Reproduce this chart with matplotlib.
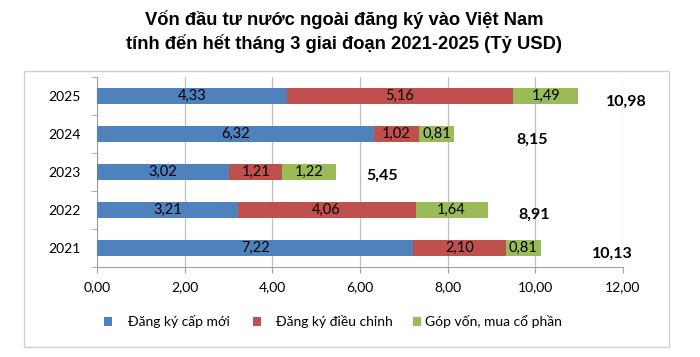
import matplotlib
matplotlib.use("Agg")
import matplotlib.pyplot as plt
from matplotlib.patches import Rectangle, Patch
import numpy as np

years = ["2021", "2022", "2023", "2024", "2025"]
new_reg = [7.22, 3.21, 3.02, 6.32, 4.33]
adjusted = [2.10, 4.06, 1.21, 1.02, 5.16]
capital = [0.81, 1.64, 1.22, 0.81, 1.49]
totals = [10.13, 8.91, 5.45, 8.15, 10.98]
series_names = ["Đăng ký cấp mới", "Đăng ký điều chỉnh", "Góp vốn, mua cổ phần"]
xticks = [0, 2, 4, 6, 8, 10, 12]
title = "Vốn đầu tư nước ngoài đăng ký vào Việt Nam\ntính đến hết tháng 3 giai đoạn 2021-2025 (Tỷ USD)"

colors = ["#4F81BD", "#C0504D", "#9BBB59"]
total_offsets = [1.62, 1.06, 1.05, 1.77, 1.10]
total_dy = [0.15, 0.12, 0.10, 0.15, 0.15]

FONT = ["Lato", "Open Sans", "DejaVu Sans"]
plt.rcParams["font.family"] = FONT

fig = plt.figure(figsize=(7, 3.57), dpi=100)
fig.patches.append(Rectangle((24 / 700, 1 - 347 / 357), 645 / 700, 276 / 357,
                             transform=fig.transFigure, fill=False,
                             edgecolor="#D0D0D0", linewidth=1.0))
ax = fig.add_axes([97 / 700, 1 - 267 / 357, 526 / 700, 190 / 357])

y = np.arange(len(years))
h = 0.4
left = np.zeros(len(years))
for vals, c, name in zip([new_reg, adjusted, capital], colors, series_names):
    ax.barh(y, vals, left=left, height=h, color=c, label=name, zorder=3)
    for yi, l, v in zip(y, left, vals):
        ax.text(l + v / 2, yi, f"{v:.2f}".replace(".", ","), ha="center", va="center",
                fontsize=10.5, color="black", zorder=4)
    left = left + np.array(vals)

for yi, t, off, dy in zip(y, totals, total_offsets, total_dy):
    ax.text(t + off, yi - dy, f"{t:.2f}".replace(".", ","), ha="center", va="center",
            fontsize=11.5, fontweight="bold", color="black", zorder=4)

ax.set_xlim(0, 12)
ax.set_ylim(-0.5, len(years) - 0.5)
ax.set_xticks(xticks)
ax.set_xticklabels([f"{v:.2f}".replace(".", ",") for v in xticks], fontsize=10)
ax.set_yticks(y)
ax.set_yticklabels(years, fontsize=10)
ax.set_yticks(np.arange(-0.5, len(years), 1), minor=True)
ax.tick_params(axis="y", which="major", length=0, pad=12)
ax.tick_params(axis="y", which="minor", length=4, color="#A0A0A0")
ax.tick_params(axis="x", which="major", length=4, color="#A0A0A0", pad=6)
ax.grid(axis="x", color="#BFBFBF", linewidth=0.9, zorder=0)
for s in ["top", "right"]:
    ax.spines[s].set_visible(False)
for s in ["left", "bottom"]:
    ax.spines[s].set_color("#A0A0A0")

fig.text(344 / 700, 1 - 31.5 / 357, title, ha="center", va="center", fontsize=13.2,
         fontweight="bold", linespacing=1.4, family=["Liberation Sans", "DejaVu Sans"])

legend_x = [104 / 700, 253 / 700, 413 / 700]
legend_pad = [1.2, 1.1, 0.3]
for c, name, lx, pad in zip(colors, series_names, legend_x, legend_pad):
    fig.legend([Patch(facecolor=c)], [name], loc="center left",
               bbox_to_anchor=(lx, 1 - 322 / 357), frameon=False, fontsize=10,
               handlelength=0.55, handleheight=0.55, handletextpad=pad,
               borderpad=0, borderaxespad=0)

fig.savefig("out.png", dpi=100)
